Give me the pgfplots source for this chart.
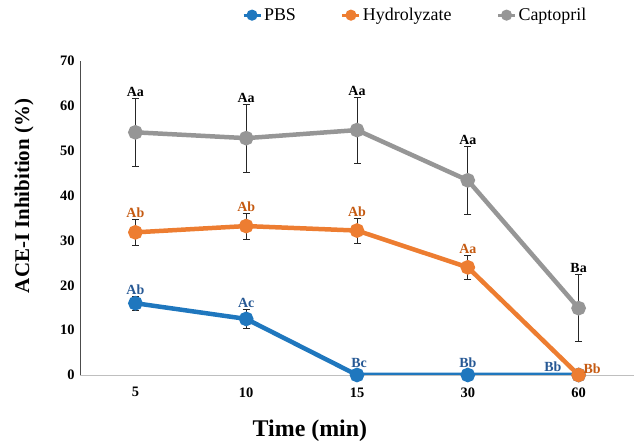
\documentclass[border=0pt]{standalone}
\usepackage{pgfplots}
\pgfplotsset{compat=1.18}
\usepackage{fontspec}
\setmainfont{Liberation Serif}

\definecolor{pbsblue}{RGB}{31,119,190}
\definecolor{pbslab}{RGB}{38,88,148}
\definecolor{hydorange}{RGB}{237,125,49}
\definecolor{hydlab}{RGB}{197,90,17}
\definecolor{capgray}{RGB}{150,150,150}

\pgfplotsset{
    errs/.style={
        error bars/y dir=both,
        error bars/y explicit,
        error bars/error bar style={black!85, line width=0.7bp},
        error bars/error mark options={rotate=90, black!85, line width=0.7bp, mark size=3.5bp},
    },
}

\begin{document}
\begin{tikzpicture}
\begin{axis}[
    scale only axis,
    width=554bp, height=314bp,
    xmin=-0.5, xmax=4.5,
    ymin=0, ymax=70,
    xtick={0,1,2,3,4},
    xticklabels={5,10,15,30,60},
    ytick={0,10,...,70},
    axis x line*=bottom,
    axis y line*=left,
    x axis line style={black!25, line width=0.9bp},
    y axis line style={black!70, line width=0.9bp},
    major tick length=0pt,
    /pgf/number format/assume math mode=true,
    ticklabel style={font=\fontsize{14.5}{16}\selectfont\bfseries},
    yticklabel style={xshift=-2bp},
    xticklabel style={yshift=-9bp},
    xlabel={Time (min)},
    ylabel={ACE-I Inhibition (\%)},
    xlabel style={font=\fontsize{24}{28}\selectfont\bfseries,
        at={(axis description cs:0.415,-0.178)}, anchor=center},
    ylabel style={font=\fontsize{21}{24}\selectfont\bfseries,
        at={(axis description cs:-0.101,0.57)}, anchor=center},
    clip mode=individual,
    legend style={draw=none, fill=none, at={(0.605,1.146)}, anchor=center,
        legend columns=3, font=\fontsize{18}{20}\selectfont,
        /tikz/every even column/.append style={column sep=43bp}},
    legend cell align=left,
    legend image post style={line width=3bp, mark size=4bp},
    every axis plot/.append style={line width=4.5bp, mark=*, mark size=5bp},
]

\addplot[pbsblue, mark options={fill=pbsblue, draw=pbsblue}, errs] coordinates {
    (0,16.0) +- (0,1.5)
    (1,12.5) +- (0,2.1)
    (2,0) +- (0,0)
    (3,0) +- (0,0)
    (4,0) +- (0,0)
};
\addlegendentry{PBS}

\addplot[hydorange, mark options={fill=hydorange, draw=hydorange}, errs] coordinates {
    (0,31.8) +- (0,3.0)
    (1,33.2) +- (0,2.9)
    (2,32.2) +- (0,2.8)
    (3,24.0) +- (0,2.6)
    (4,0) +- (0,0)
};
\addlegendentry{Hydrolyzate}

\addplot[capgray, mark options={fill=capgray, draw=capgray}, errs] coordinates {
    (0,54.1) +- (0,7.6)
    (1,52.8) +- (0,7.6)
    (2,54.6) +- (0,7.4)
    (3,43.4) +- (0,7.5)
    (4,14.9) +- (0,7.5)
};
\addlegendentry{Captopril}

\begin{scope}[every node/.style={font=\fontsize{14}{16}\selectfont\bfseries, inner sep=1.5bp}]
% Captopril letters
\node[anchor=south] at (axis cs:0,61.7) {Aa};
\node[anchor=south] at (axis cs:1,60.4) {Aa};
\node[anchor=south] at (axis cs:2,62.0) {Aa};
\node[anchor=south] at (axis cs:3,50.9) {Aa};
\node[anchor=south] at (axis cs:4,22.4) {Ba};
% Hydrolyzate letters
\node[anchor=south, text=hydlab] at (axis cs:0,34.8) {Ab};
\node[anchor=south, text=hydlab] at (axis cs:1,36.1) {Ab};
\node[anchor=south, text=hydlab] at (axis cs:2,35.0) {Ab};
\node[anchor=south, text=hydlab] at (axis cs:3,26.6) {Aa};
\node[anchor=south west, text=hydlab] at (axis cs:4.03,0) {Bb};
% PBS letters
\node[anchor=south, text=pbslab] at (axis cs:0,17.5) {Ab};
\node[anchor=south, text=pbslab] at (axis cs:1,14.6) {Ac};
\node[anchor=south, text=pbslab, xshift=2bp] at (axis cs:2,1.2) {Bc};
\node[anchor=south, text=pbslab] at (axis cs:3,1.2) {Bb};
\node[anchor=south east, text=pbslab] at (axis cs:3.86,0.4) {Bb};
\end{scope}

\coordinate (LL) at (rel axis cs:0,0);
\coordinate (UR) at (rel axis cs:1,1);
\end{axis}
\pgfresetboundingbox
\path ([shift={(-80bp,-71bp)}]LL) rectangle ([shift={(2bp,61bp)}]UR);
\end{tikzpicture}
\end{document}
